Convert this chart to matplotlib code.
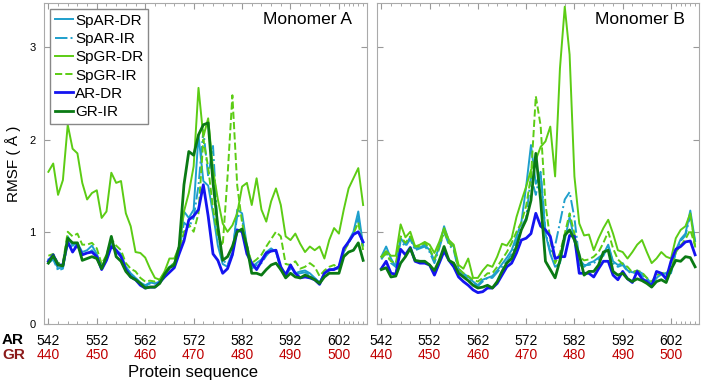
import matplotlib
matplotlib.use('Agg')
import matplotlib.pyplot as plt
from matplotlib.ticker import FixedLocator

plt.rcParams['font.family'] = ['Liberation Sans', 'DejaVu Sans']

# residue numbers (AR numbering), GR numbering is AR - 102
residues = list(range(542, 608))
ar_ticks = [542, 552, 562, 572, 582, 592, 602]
gr_ticks = [440, 450, 460, 470, 480, 490, 500]

# Monomer A
spar_dr_a = [0.70, 0.72, 0.60, 0.62, 0.95, 0.85, 0.88, 0.78, 0.80, 0.85,
             0.76, 0.62, 0.72, 0.90, 0.80, 0.76, 0.62, 0.55, 0.50, 0.45,
             0.42, 0.45, 0.44, 0.46, 0.55, 0.62, 0.66, 0.80, 1.22, 1.15,
             1.24, 2.05, 1.55, 1.50, 1.20, 0.85, 0.65, 0.62, 0.75, 1.24,
             1.20, 0.85, 0.62, 0.66, 0.70, 0.78, 0.82, 0.78, 0.60, 0.55,
             0.62, 0.55, 0.57, 0.58, 0.55, 0.50, 0.45, 0.55, 0.58, 0.60,
             0.62, 0.80, 0.90, 1.00, 1.22, 0.85]
spar_ir_a = [0.66, 0.70, 0.58, 0.60, 0.90, 0.82, 0.85, 0.76, 0.76, 0.80,
             0.74, 0.60, 0.70, 0.88, 0.78, 0.74, 0.62, 0.54, 0.50, 0.44,
             0.41, 0.44, 0.44, 0.46, 0.55, 0.60, 0.64, 0.78, 1.10, 1.05,
             1.15, 1.50, 2.10, 1.60, 1.93, 1.00, 0.70, 0.64, 0.78, 1.18,
             1.15, 0.80, 0.60, 0.64, 0.66, 0.74, 0.80, 0.80, 0.58, 0.53,
             0.60, 0.54, 0.55, 0.56, 0.53, 0.50, 0.44, 0.55, 0.58, 0.60,
             0.60, 0.78, 0.88, 0.98, 1.15, 0.82]
spgr_dr_a = [1.65, 1.74, 1.40, 1.56, 2.16, 1.90, 1.85, 1.53, 1.35, 1.42,
             1.45, 1.15, 1.22, 1.64, 1.53, 1.55, 1.20, 1.06, 0.78, 0.77,
             0.72, 0.60, 0.50, 0.48, 0.57, 0.71, 0.71, 0.84, 1.22, 1.42,
             1.71, 2.56, 2.03, 2.23, 1.67, 1.35, 1.09, 1.00, 1.07, 1.20,
             1.49, 1.53, 1.29, 1.58, 1.24, 1.11, 1.33, 1.47, 1.29, 0.95,
             0.91, 0.98, 0.87, 0.78, 0.84, 0.80, 0.84, 0.71, 0.91, 1.04,
             0.98, 1.24, 1.47, 1.58, 1.69, 1.29]
spgr_ir_a = [0.74, 0.76, 0.66, 0.66, 1.00, 0.95, 0.98, 0.86, 0.86, 0.88,
             0.82, 0.65, 0.75, 0.92, 0.85, 0.80, 0.66, 0.60, 0.57, 0.50,
             0.46, 0.47, 0.46, 0.48, 0.56, 0.62, 0.66, 0.78, 1.00, 1.08,
             1.00, 1.20, 2.00, 1.70, 1.25, 0.95, 0.85, 1.60, 2.48, 1.50,
             1.10, 0.85, 0.66, 0.70, 0.75, 0.84, 0.92, 1.00, 0.95, 0.65,
             0.64, 0.68, 0.60, 0.62, 0.66, 0.62, 0.52, 0.58, 0.62, 0.64,
             0.60, 0.78, 0.88, 0.98, 1.10, 0.80]
ar_dr_a = [0.68, 0.75, 0.64, 0.64, 0.89, 0.78, 0.86, 0.75, 0.77, 0.78,
           0.73, 0.59, 0.69, 0.84, 0.80, 0.73, 0.59, 0.51, 0.48, 0.42,
           0.39, 0.40, 0.40, 0.45, 0.51, 0.56, 0.61, 0.76, 0.90, 1.13,
           1.17, 1.24, 1.51, 1.17, 0.76, 0.69, 0.55, 0.60, 0.75, 1.02,
           1.00, 0.76, 0.66, 0.59, 0.68, 0.77, 0.79, 0.80, 0.62, 0.53,
           0.64, 0.55, 0.50, 0.51, 0.50, 0.48, 0.43, 0.55, 0.59, 0.59,
           0.62, 0.82, 0.89, 0.97, 1.00, 0.89]
gr_ir_a = [0.66, 0.74, 0.64, 0.63, 0.93, 0.88, 0.88, 0.69, 0.71, 0.73,
           0.71, 0.60, 0.73, 0.95, 0.73, 0.68, 0.57, 0.51, 0.48, 0.44,
           0.39, 0.40, 0.40, 0.44, 0.54, 0.61, 0.64, 0.84, 1.51, 1.87,
           1.83, 2.05, 2.16, 2.18, 1.53, 1.06, 0.69, 0.73, 0.84, 1.00,
           1.03, 0.84, 0.55, 0.55, 0.53, 0.59, 0.64, 0.66, 0.59, 0.50,
           0.55, 0.51, 0.50, 0.53, 0.51, 0.48, 0.44, 0.51, 0.55, 0.55,
           0.55, 0.73, 0.78, 0.80, 0.88, 0.69]

# Monomer B
spar_dr_b = [0.73, 0.84, 0.71, 0.62, 0.93, 0.86, 0.94, 0.82, 0.83, 0.86,
             0.80, 0.69, 0.84, 1.06, 0.90, 0.84, 0.60, 0.55, 0.51, 0.46,
             0.42, 0.48, 0.50, 0.52, 0.58, 0.65, 0.72, 0.80, 0.95, 1.10,
             1.49, 1.94, 1.52, 1.63, 0.98, 0.76, 0.62, 0.66, 0.91, 1.16,
             0.91, 0.64, 0.62, 0.66, 0.68, 0.72, 0.76, 0.86, 0.68, 0.64,
             0.66, 0.58, 0.56, 0.58, 0.55, 0.50, 0.43, 0.50, 0.54, 0.55,
             0.56, 0.80, 0.92, 0.98, 1.23, 0.90]
spar_ir_b = [0.70, 0.78, 0.66, 0.62, 0.90, 0.84, 0.92, 0.80, 0.82, 0.84,
             0.78, 0.66, 0.82, 1.00, 0.86, 0.80, 0.58, 0.53, 0.50, 0.45,
             0.41, 0.46, 0.50, 0.50, 0.56, 0.62, 0.68, 0.76, 0.90, 1.05,
             1.15, 1.60, 1.40, 1.65, 1.00, 0.78, 0.85, 1.10, 1.35, 1.43,
             1.15, 0.70, 0.64, 0.64, 0.66, 0.70, 0.74, 0.85, 0.66, 0.62,
             0.64, 0.57, 0.55, 0.56, 0.53, 0.48, 0.42, 0.50, 0.54, 0.55,
             0.55, 0.78, 0.90, 0.96, 1.18, 0.88]
spgr_dr_b = [0.73, 0.79, 0.74, 0.74, 1.08, 0.94, 1.00, 0.84, 0.86, 0.89,
             0.86, 0.77, 0.89, 1.04, 0.91, 0.86, 0.64, 0.60, 0.71, 0.50,
             0.50, 0.58, 0.64, 0.62, 0.73, 0.87, 0.85, 0.93, 1.16, 1.33,
             1.49, 1.67, 1.78, 1.92, 1.98, 2.14, 1.60, 2.77, 3.44, 2.92,
             1.60, 1.09, 0.96, 0.97, 0.80, 0.93, 1.04, 1.13, 0.98, 0.80,
             0.78, 0.71, 0.78, 0.86, 0.91, 0.78, 0.66, 0.71, 0.78, 0.73,
             0.71, 0.93, 1.02, 1.06, 1.20, 0.84]
spgr_ir_b = [0.72, 0.76, 0.68, 0.66, 0.95, 0.88, 0.95, 0.84, 0.84, 0.88,
             0.82, 0.70, 0.85, 1.00, 0.88, 0.82, 0.60, 0.55, 0.52, 0.48,
             0.46, 0.50, 0.55, 0.55, 0.62, 0.70, 0.78, 0.88, 1.00, 1.10,
             1.28, 1.60, 2.47, 2.15, 1.30, 0.91, 0.66, 0.77, 0.98, 1.20,
             0.98, 0.73, 0.69, 0.70, 0.73, 0.78, 0.88, 1.00, 0.82, 0.70,
             0.65, 0.62, 0.56, 0.58, 0.56, 0.50, 0.46, 0.53, 0.55, 0.56,
             0.58, 0.78, 0.85, 0.92, 1.02, 0.85]
ar_dr_b = [0.60, 0.68, 0.55, 0.54, 0.81, 0.75, 0.83, 0.68, 0.66, 0.66,
           0.64, 0.53, 0.66, 0.79, 0.69, 0.62, 0.51, 0.46, 0.42, 0.37,
           0.34, 0.35, 0.39, 0.39, 0.44, 0.53, 0.62, 0.66, 0.77, 0.91,
           0.93, 0.98, 1.20, 1.06, 1.02, 0.95, 0.71, 0.73, 0.73, 0.96,
           0.95, 0.55, 0.55, 0.55, 0.51, 0.60, 0.68, 0.68, 0.53, 0.48,
           0.57, 0.49, 0.45, 0.57, 0.49, 0.46, 0.41, 0.57, 0.55, 0.49,
           0.68, 0.81, 0.84, 0.89, 0.90, 0.75]
gr_ir_b = [0.59, 0.61, 0.51, 0.52, 0.66, 0.73, 0.82, 0.69, 0.68, 0.68,
           0.64, 0.58, 0.69, 0.84, 0.69, 0.66, 0.55, 0.51, 0.47, 0.42,
           0.39, 0.40, 0.42, 0.39, 0.46, 0.57, 0.66, 0.71, 0.84, 1.02,
           1.13, 1.34, 1.85, 1.34, 0.68, 0.59, 0.50, 0.69, 0.96, 1.02,
           0.91, 0.75, 0.53, 0.57, 0.57, 0.64, 0.78, 0.80, 0.57, 0.53,
           0.55, 0.49, 0.46, 0.49, 0.47, 0.44, 0.40, 0.46, 0.48, 0.45,
           0.59, 0.69, 0.68, 0.73, 0.72, 0.62]

labels = ['SpAR-DR', 'SpAR-IR', 'SpGR-DR', 'SpGR-IR', 'AR-DR', 'GR-IR']
colors = ['#1e9fcc', '#1e9fcc', '#5ccc14', '#5ccc14', '#1414f0', '#0a7a14']
styles = ['-', '-.', '-', '--', '-', '-']
widths = [1.4, 1.4, 1.4, 1.4, 2.0, 2.0]

data_a = [spar_dr_a, spar_ir_a, spgr_dr_a, spgr_ir_a, ar_dr_a, gr_ir_a]
data_b = [spar_dr_b, spar_ir_b, spgr_dr_b, spgr_ir_b, ar_dr_b, gr_ir_b]

fig = plt.figure(figsize=(7.02, 3.86), dpi=100)
ax1 = fig.add_axes([0.0627, 0.1606, 0.4601, 0.8316])
ax2 = fig.add_axes([0.5370, 0.1606, 0.4587, 0.8316])

minor = list(range(542, 603, 2)) + list(range(603, 608))

for ax, data, name in [(ax1, data_a, 'Monomer A'), (ax2, data_b, 'Monomer B')]:
    for vals, lab, c, ls, lw in zip(data, labels, colors, styles, widths):
        ax.plot(residues, vals, color=c, linestyle=ls, linewidth=lw, label=lab)
    ax.set_xlim(541.1, 607.8)
    ax.set_ylim(0, 3.48)
    ax.set_yticks([0, 1, 2, 3])
    ax.set_xticks(ar_ticks)
    ax.set_xticklabels([str(t) for t in ar_ticks], fontsize=10)
    ax.xaxis.set_minor_locator(FixedLocator(minor))
    ax.tick_params(direction='in', which='both', top=True, right=True,
                   color='#999999', pad=7)
    ax.tick_params(axis='x', which='major', length=4)
    ax.tick_params(axis='x', which='minor', length=2)
    ax.tick_params(axis='y', length=4, labelsize=8, pad=6)
    for sp in ax.spines.values():
        sp.set_color('#aaaaaa')
    ax.text(0.955, 0.95, name, transform=ax.transAxes, ha='right', va='center',
            fontsize=12.5)
    # second row of tick labels, GR numbering
    for t, g in zip(ar_ticks, gr_ticks):
        ax.text(t, -0.097, str(g), transform=ax.get_xaxis_transform(),
                ha='center', va='center', color='#c00000', fontsize=10)

ax2.set_yticklabels([])

ax1.set_ylabel('RMSF ( Å )', fontsize=11, labelpad=6)
leg = ax1.legend(loc='upper left', fontsize=11, handlelength=1.2,
                 handletextpad=0.15, borderpad=0.3, labelspacing=0.28,
                 borderaxespad=0.4, fancybox=False, framealpha=1)
leg.get_frame().set_edgecolor('#888888')

fig.text(0.003, 1 - 340 / 386, 'AR', fontsize=11, fontweight='bold',
         color='black', va='center', ha='left')
fig.text(0.003, 1 - 355 / 386, 'GR', fontsize=11, fontweight='bold',
         color='#8b1a1a', va='center', ha='left')
fig.text(193 / 702, 1 - 373 / 386, 'Protein sequence', fontsize=12,
         ha='center', va='center')

plt.savefig('out.png', dpi=100)
